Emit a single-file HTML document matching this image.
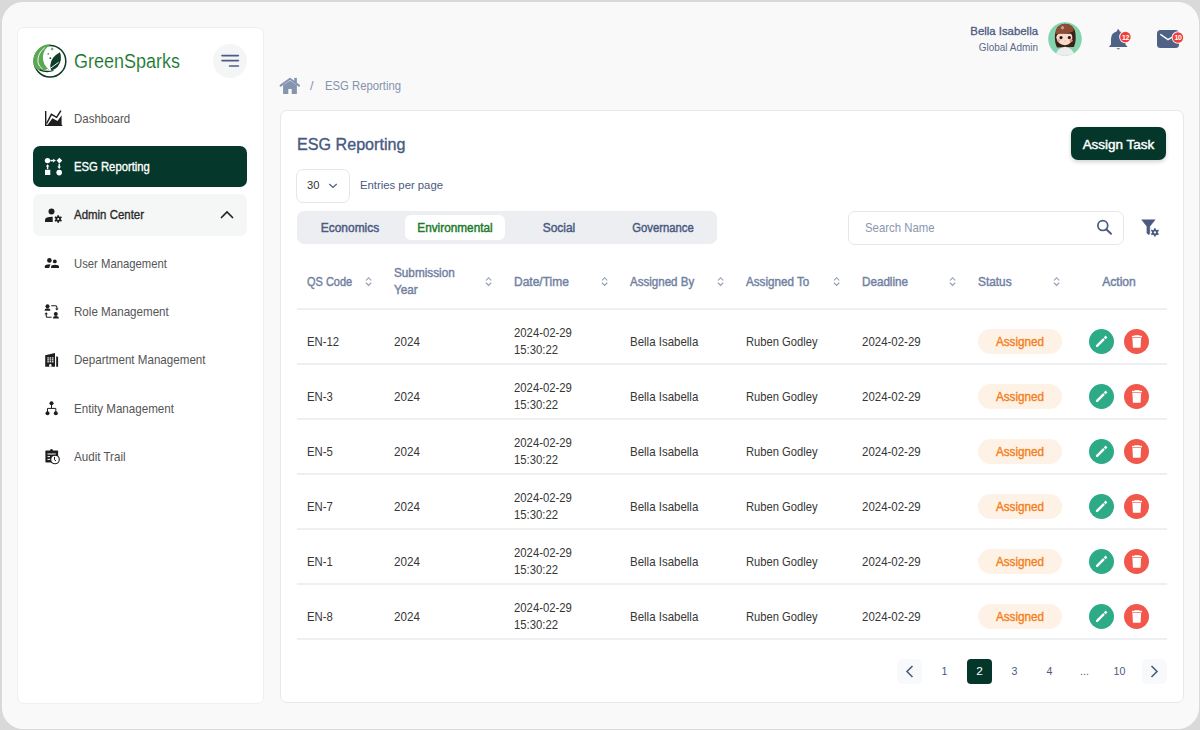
<!DOCTYPE html>
<html><head><meta charset="utf-8">
<style>
*{box-sizing:border-box;margin:0;padding:0}
html,body{width:1200px;height:730px;overflow:hidden;background:#d9d9d9;font-family:"Liberation Sans",sans-serif}
.abs{position:absolute}
.t{position:absolute;white-space:nowrap;line-height:1}
.rl{position:absolute;left:296.5px;width:870px;height:1.8px;background:#edeff3}
</style></head><body>
<div class="abs" style="left:1.5px;top:1.5px;width:1197px;height:727px;border-radius:21px;background:#f9f9f9;border:1px solid #fbfbfb"></div>
<div class="abs" style="left:16.5px;top:27px;width:247px;height:676.5px;background:#fff;border-radius:7px;border:1px solid #efefef"></div>
<svg class="abs" style="left:30px;top:41px" width="40" height="40" viewBox="0 0 40 40">
  <circle cx="20" cy="20.2" r="15.8" fill="none" stroke="#0f3a25" stroke-width="1.5"/>
  <path d="M21 3.4 A16.6 16.6 0 0 0 5.2 27.5 Q10 31 19.2 28.8 Q12.5 23.5 12.9 15.5 Q13.6 7.5 21 3.4Z" fill="#5aa851"/>
  <path d="M14.8 6.6 Q7 12.5 8 21.5 Q8.8 25.5 12.5 28" fill="none" stroke="#fff" stroke-width="0.9"/>
  <path d="M30 11.2 Q21 16 20.3 24 Q20 27.5 21.3 29.6 Q29.5 27 30.9 18.5 Q31.3 14 30 11.2Z" fill="#0d3f29"/>
  <path d="M12.5 30.5 Q21.5 28 28.6 21.3" fill="none" stroke="#fff" stroke-width="1"/>
  <path d="M9.5 28.8 Q16 31.8 23.5 29.5" fill="none" stroke="#0f3a25" stroke-width="1.3"/>
  <path d="M22.1 6.2L22.6 7.5L23.9 8L22.6 8.5L22.1 9.8L21.6 8.5L20.3 8L21.6 7.5Z" fill="#1f8a3a"/>
  <circle cx="18.3" cy="12.9" r="0.9" fill="#5aa851"/>
  <circle cx="20.3" cy="17.1" r="0.9" fill="#0f3a25"/>
</svg>
<div class="t" style="left:74.00px;top:51.47px;font-size:20px;color:#15752a;transform:scaleX(0.8987);transform-origin:0 0;-webkit-text-stroke:0.15px #fff;">GreenSparks</div>
<div class="abs" style="left:213px;top:44px;width:34px;height:34px;border-radius:50%;background:#f4f5f7"></div>
<svg class="abs" style="left:213px;top:44px" width="34" height="34"><path d="M9 11.6H25.4M9 16.6H25.4M16.6 22H25.4" stroke="#4d5d82" stroke-width="1.6" stroke-linecap="round"/></svg>
<div class="t" style="left:73.70px;top:112.66px;font-size:12.8px;color:#555;transform:scaleX(0.8961);transform-origin:0 0;">Dashboard</div>
<div class="abs" style="left:33px;top:146px;width:214px;height:41px;border-radius:7px;background:#05382a"></div>
<div class="t" style="left:73.70px;top:160.66px;font-size:12.8px;color:#fff;-webkit-text-stroke:0.35px #fff;transform:scaleX(0.8816);transform-origin:0 0;">ESG Reporting</div>
<div class="abs" style="left:33px;top:194px;width:214px;height:42px;border-radius:7px;background:#f5f6f6"></div>
<div class="t" style="left:73.70px;top:209.16px;font-size:12.8px;color:#2a2a2a;-webkit-text-stroke:0.35px #2a2a2a;transform:scaleX(0.8950);transform-origin:0 0;">Admin Center</div>
<svg class="abs" style="left:218px;top:208px" width="18" height="14"><path d="M3 10L9 4L15 10" fill="none" stroke="#222" stroke-width="1.6"/></svg>
<div class="t" style="left:73.70px;top:257.66px;font-size:12.8px;color:#555;transform:scaleX(0.8826);transform-origin:0 0;">User Management</div>
<div class="t" style="left:73.70px;top:305.96px;font-size:12.8px;color:#555;transform:scaleX(0.9062);transform-origin:0 0;">Role Management</div>
<div class="t" style="left:73.70px;top:354.26px;font-size:12.8px;color:#555;transform:scaleX(0.9062);transform-origin:0 0;">Department Management</div>
<div class="t" style="left:73.70px;top:402.56px;font-size:12.8px;color:#555;transform:scaleX(0.9062);transform-origin:0 0;">Entity Management</div>
<div class="t" style="left:73.70px;top:450.86px;font-size:12.8px;color:#555;transform:scaleX(0.9062);transform-origin:0 0;">Audit Trail</div>
<div class="t" style="left:900.00px;top:26.07px;font-size:11.5px;color:#4a5a80;-webkit-text-stroke:0.3px #4a5a80;width:138px;text-align:right;transform:scaleX(0.9898);transform-origin:100% 0;">Bella Isabella</div>
<div class="t" style="left:900.00px;top:43.03px;font-size:10px;color:#5a6a8a;width:138px;text-align:right;transform:scaleX(0.9955);transform-origin:100% 0;">Global Admin</div>
<div class="t" style="left:310.00px;top:79.96px;font-size:12.8px;color:#8593ad;">/</div>
<div class="t" style="left:325.30px;top:79.96px;font-size:12.8px;color:#8593ad;transform:scaleX(0.8829);transform-origin:0 0;">ESG Reporting</div>
<div class="abs" style="left:280px;top:110px;width:904px;height:593px;background:#fff;border:1px solid #e6e8ec;border-radius:7px"></div>
<div class="t" style="left:297.30px;top:136.66px;font-size:16px;color:#475a80;-webkit-text-stroke:0.35px #475a80;transform:scaleX(1.0079);transform-origin:0 0;">ESG Reporting</div>
<div class="abs" style="left:1071px;top:127px;width:95px;height:33px;border-radius:7px;background:#04362a;box-shadow:0 2px 4px rgba(0,0,0,0.18)"></div>
<div class="t" style="left:1071.00px;top:137.99px;font-size:13.6px;color:#fff;-webkit-text-stroke:0.45px #fff;width:95px;text-align:center;transform:scaleX(0.9921);transform-origin:50% 0;">Assign Task</div>
<div class="abs" style="left:296px;top:169px;width:54px;height:34px;border-radius:7px;border:1px solid #e4e6ea"></div>
<div class="t" style="left:306.70px;top:180.21px;font-size:11.8px;color:#333;transform:scaleX(0.9439);transform-origin:0 0;">30</div>
<svg class="abs" style="left:326px;top:180px" width="14" height="10"><path d="M3.3 4L7 7.4L10.7 4" fill="none" stroke="#4a5a80" stroke-width="1.15"/></svg>
<div class="t" style="left:360.30px;top:180.21px;font-size:11.8px;color:#4a5a80;transform:scaleX(0.9586);transform-origin:0 0;">Entries per page</div>
<div class="abs" style="left:297px;top:211px;width:420px;height:33px;border-radius:7px;background:#eceef2"></div>
<div class="abs" style="left:405px;top:215px;width:100px;height:25px;border-radius:6px;background:#fff"></div>
<div class="t" style="left:290.40px;top:222.16px;font-size:12.8px;color:#4a5a80;-webkit-text-stroke:0.45px #4a5a80;width:120px;text-align:center;transform:scaleX(0.9329);transform-origin:50% 0;">Economics</div>
<div class="t" style="left:394.50px;top:222.16px;font-size:12.8px;color:#1b7a2b;-webkit-text-stroke:0.45px #1b7a2b;width:120px;text-align:center;transform:scaleX(0.9216);transform-origin:50% 0;">Environmental</div>
<div class="t" style="left:498.70px;top:222.16px;font-size:12.8px;color:#4a5a80;-webkit-text-stroke:0.45px #4a5a80;width:120px;text-align:center;transform:scaleX(0.9344);transform-origin:50% 0;">Social</div>
<div class="t" style="left:603.20px;top:222.16px;font-size:12.8px;color:#4a5a80;-webkit-text-stroke:0.45px #4a5a80;width:120px;text-align:center;transform:scaleX(0.8808);transform-origin:50% 0;">Governance</div>
<div class="abs" style="left:848px;top:211px;width:276px;height:33.5px;border-radius:7px;border:1px solid #e4e6ea;background:#fff"></div>
<div class="t" style="left:865.00px;top:221.56px;font-size:12.8px;color:#8a97b0;transform:scaleX(0.8884);transform-origin:0 0;">Search Name</div>
<svg class="abs" style="left:1094px;top:216.8px" width="20" height="20"><circle cx="8.8" cy="8.6" r="4.9" fill="none" stroke="#4a5a80" stroke-width="1.7"/><path d="M12.3 12.2L17 16.8" stroke="#4a5a80" stroke-width="1.9" stroke-linecap="round"/></svg>
<svg class="abs" style="left:1138px;top:216px" width="24" height="24" viewBox="0 0 24 24">
<path d="M3.7 3.8H17.1L11.8 10.4V16.5Q11.8 18 11 18.8L8.9 17.2V10.4Z" fill="#4a5a80" stroke="#4a5a80" stroke-width="0.5" stroke-linejoin="round"/>
<g transform="translate(16.9,16.4)"><circle r="2.9" fill="#4a5a80"/>
<path d="M0 -4.2V4.2M-3.64 -2.1L3.64 2.1M-3.64 2.1L3.64 -2.1" stroke="#4a5a80" stroke-width="1.7"/><circle r="1.1" fill="#fff"/></g>
</svg>
<div class="t" style="left:306.50px;top:275.56px;font-size:12.8px;color:#7282a2;-webkit-text-stroke:0.45px #7282a2;transform:scaleX(0.8571);transform-origin:0 0;">QS Code</div>
<svg class="abs" style="left:365px;top:276px" width="8" height="11"><path d="M0.9 4.5L3.6 1.7L6.3 4.5M0.9 6.6L3.6 9.4L6.3 6.6" fill="none" stroke="#8a97b0" stroke-width="1.05"/></svg>
<div class="t" style="left:393.50px;top:267.06px;font-size:12.8px;color:#7282a2;-webkit-text-stroke:0.45px #7282a2;transform:scaleX(0.9176);transform-origin:0 0;">Submission</div>
<div class="t" style="left:393.50px;top:283.56px;font-size:12.8px;color:#7282a2;-webkit-text-stroke:0.45px #7282a2;transform:scaleX(0.9176);transform-origin:0 0;">Year</div>
<svg class="abs" style="left:485px;top:276px" width="8" height="11"><path d="M0.9 4.5L3.6 1.7L6.3 4.5M0.9 6.6L3.6 9.4L6.3 6.6" fill="none" stroke="#8a97b0" stroke-width="1.05"/></svg>
<div class="t" style="left:513.50px;top:275.56px;font-size:12.8px;color:#7282a2;-webkit-text-stroke:0.45px #7282a2;transform:scaleX(0.9364);transform-origin:0 0;">Date/Time</div>
<svg class="abs" style="left:601px;top:276px" width="8" height="11"><path d="M0.9 4.5L3.6 1.7L6.3 4.5M0.9 6.6L3.6 9.4L6.3 6.6" fill="none" stroke="#8a97b0" stroke-width="1.05"/></svg>
<div class="t" style="left:629.50px;top:275.56px;font-size:12.8px;color:#7282a2;-webkit-text-stroke:0.45px #7282a2;transform:scaleX(0.9032);transform-origin:0 0;">Assigned By</div>
<svg class="abs" style="left:717px;top:276px" width="8" height="11"><path d="M0.9 4.5L3.6 1.7L6.3 4.5M0.9 6.6L3.6 9.4L6.3 6.6" fill="none" stroke="#8a97b0" stroke-width="1.05"/></svg>
<div class="t" style="left:745.50px;top:275.56px;font-size:12.8px;color:#7282a2;-webkit-text-stroke:0.45px #7282a2;transform:scaleX(0.9108);transform-origin:0 0;">Assigned To</div>
<svg class="abs" style="left:833px;top:276px" width="8" height="11"><path d="M0.9 4.5L3.6 1.7L6.3 4.5M0.9 6.6L3.6 9.4L6.3 6.6" fill="none" stroke="#8a97b0" stroke-width="1.05"/></svg>
<div class="t" style="left:861.50px;top:275.56px;font-size:12.8px;color:#7282a2;-webkit-text-stroke:0.45px #7282a2;transform:scaleX(0.9108);transform-origin:0 0;">Deadline</div>
<svg class="abs" style="left:949px;top:276px" width="8" height="11"><path d="M0.9 4.5L3.6 1.7L6.3 4.5M0.9 6.6L3.6 9.4L6.3 6.6" fill="none" stroke="#8a97b0" stroke-width="1.05"/></svg>
<div class="t" style="left:977.50px;top:275.56px;font-size:12.8px;color:#7282a2;-webkit-text-stroke:0.45px #7282a2;transform:scaleX(0.9248);transform-origin:0 0;">Status</div>
<svg class="abs" style="left:1053px;top:276px" width="8" height="11"><path d="M0.9 4.5L3.6 1.7L6.3 4.5M0.9 6.6L3.6 9.4L6.3 6.6" fill="none" stroke="#8a97b0" stroke-width="1.05"/></svg>
<div class="t" style="left:1072.00px;top:275.56px;font-size:12.8px;color:#7282a2;-webkit-text-stroke:0.45px #7282a2;width:94px;text-align:center;transform:scaleX(0.9471);transform-origin:50% 0;">Action</div>
<div class="rl" style="top:308px"></div>
<div class="t" style="left:306.50px;top:335.66px;font-size:12.8px;color:#363636;transform:scaleX(0.8846);transform-origin:0 0;">EN-12</div>
<div class="t" style="left:393.50px;top:335.66px;font-size:12.8px;color:#363636;transform:scaleX(0.9100);transform-origin:0 0;">2024</div>
<div class="t" style="left:513.60px;top:326.86px;font-size:12.8px;color:#363636;transform:scaleX(0.8846);transform-origin:0 0;">2024-02-29</div>
<div class="t" style="left:513.60px;top:344.16px;font-size:12.8px;color:#363636;transform:scaleX(0.8846);transform-origin:0 0;">15:30:22</div>
<div class="t" style="left:629.60px;top:335.66px;font-size:12.8px;color:#363636;transform:scaleX(0.8973);transform-origin:0 0;">Bella Isabella</div>
<div class="t" style="left:746.00px;top:335.66px;font-size:12.8px;color:#363636;transform:scaleX(0.8746);transform-origin:0 0;">Ruben Godley</div>
<div class="t" style="left:862.00px;top:335.66px;font-size:12.8px;color:#363636;transform:scaleX(0.8968);transform-origin:0 0;">2024-02-29</div>
<div class="abs" style="left:978px;top:329px;width:84px;height:25px;border-radius:13px;background:#fef2e6"></div>
<div class="t" style="left:978.00px;top:335.66px;font-size:12.8px;color:#f57d18;-webkit-text-stroke:0.35px #f57d18;width:84px;text-align:center;transform:scaleX(0.9153);transform-origin:50% 0;">Assigned</div>
<div class="abs" style="left:1089px;top:329px;width:25px;height:25px;border-radius:50%;background:#2cab86"></div>
<svg class="abs" style="left:1089px;top:329px" width="25" height="25"><path d="M8.1 16.9L14.3 10.7" stroke="#fff" stroke-width="2.5" stroke-linecap="round"/><path d="M15.7 9.3L17.5 7.5" stroke="#fff" stroke-width="2.5"/></svg>
<div class="abs" style="left:1124px;top:329px;width:25px;height:25px;border-radius:50%;background:#f2574b"></div>
<svg class="abs" style="left:1124px;top:329px" width="25" height="25"><path d="M8 7.6H18" stroke="#fff" stroke-width="1.5"/><path d="M10.8 6.9H15.2" stroke="#fff" stroke-width="1.2" stroke-linecap="round"/><path d="M8.4 9H17.1L16.6 18.2Q16.5 18.8 15.9 18.8H9.6Q9 18.8 8.9 18.2Z" fill="#fff"/></svg>
<div class="rl" style="top:363px"></div>
<div class="t" style="left:306.50px;top:390.66px;font-size:12.8px;color:#363636;transform:scaleX(0.8846);transform-origin:0 0;">EN-3</div>
<div class="t" style="left:393.50px;top:390.66px;font-size:12.8px;color:#363636;transform:scaleX(0.9100);transform-origin:0 0;">2024</div>
<div class="t" style="left:513.60px;top:381.86px;font-size:12.8px;color:#363636;transform:scaleX(0.8846);transform-origin:0 0;">2024-02-29</div>
<div class="t" style="left:513.60px;top:399.16px;font-size:12.8px;color:#363636;transform:scaleX(0.8846);transform-origin:0 0;">15:30:22</div>
<div class="t" style="left:629.60px;top:390.66px;font-size:12.8px;color:#363636;transform:scaleX(0.8973);transform-origin:0 0;">Bella Isabella</div>
<div class="t" style="left:746.00px;top:390.66px;font-size:12.8px;color:#363636;transform:scaleX(0.8746);transform-origin:0 0;">Ruben Godley</div>
<div class="t" style="left:862.00px;top:390.66px;font-size:12.8px;color:#363636;transform:scaleX(0.8968);transform-origin:0 0;">2024-02-29</div>
<div class="abs" style="left:978px;top:384px;width:84px;height:25px;border-radius:13px;background:#fef2e6"></div>
<div class="t" style="left:978.00px;top:390.66px;font-size:12.8px;color:#f57d18;-webkit-text-stroke:0.35px #f57d18;width:84px;text-align:center;transform:scaleX(0.9153);transform-origin:50% 0;">Assigned</div>
<div class="abs" style="left:1089px;top:384px;width:25px;height:25px;border-radius:50%;background:#2cab86"></div>
<svg class="abs" style="left:1089px;top:384px" width="25" height="25"><path d="M8.1 16.9L14.3 10.7" stroke="#fff" stroke-width="2.5" stroke-linecap="round"/><path d="M15.7 9.3L17.5 7.5" stroke="#fff" stroke-width="2.5"/></svg>
<div class="abs" style="left:1124px;top:384px;width:25px;height:25px;border-radius:50%;background:#f2574b"></div>
<svg class="abs" style="left:1124px;top:384px" width="25" height="25"><path d="M8 7.6H18" stroke="#fff" stroke-width="1.5"/><path d="M10.8 6.9H15.2" stroke="#fff" stroke-width="1.2" stroke-linecap="round"/><path d="M8.4 9H17.1L16.6 18.2Q16.5 18.8 15.9 18.8H9.6Q9 18.8 8.9 18.2Z" fill="#fff"/></svg>
<div class="rl" style="top:418px"></div>
<div class="t" style="left:306.50px;top:445.66px;font-size:12.8px;color:#363636;transform:scaleX(0.8846);transform-origin:0 0;">EN-5</div>
<div class="t" style="left:393.50px;top:445.66px;font-size:12.8px;color:#363636;transform:scaleX(0.9100);transform-origin:0 0;">2024</div>
<div class="t" style="left:513.60px;top:436.86px;font-size:12.8px;color:#363636;transform:scaleX(0.8846);transform-origin:0 0;">2024-02-29</div>
<div class="t" style="left:513.60px;top:454.16px;font-size:12.8px;color:#363636;transform:scaleX(0.8846);transform-origin:0 0;">15:30:22</div>
<div class="t" style="left:629.60px;top:445.66px;font-size:12.8px;color:#363636;transform:scaleX(0.8973);transform-origin:0 0;">Bella Isabella</div>
<div class="t" style="left:746.00px;top:445.66px;font-size:12.8px;color:#363636;transform:scaleX(0.8746);transform-origin:0 0;">Ruben Godley</div>
<div class="t" style="left:862.00px;top:445.66px;font-size:12.8px;color:#363636;transform:scaleX(0.8968);transform-origin:0 0;">2024-02-29</div>
<div class="abs" style="left:978px;top:439px;width:84px;height:25px;border-radius:13px;background:#fef2e6"></div>
<div class="t" style="left:978.00px;top:445.66px;font-size:12.8px;color:#f57d18;-webkit-text-stroke:0.35px #f57d18;width:84px;text-align:center;transform:scaleX(0.9153);transform-origin:50% 0;">Assigned</div>
<div class="abs" style="left:1089px;top:439px;width:25px;height:25px;border-radius:50%;background:#2cab86"></div>
<svg class="abs" style="left:1089px;top:439px" width="25" height="25"><path d="M8.1 16.9L14.3 10.7" stroke="#fff" stroke-width="2.5" stroke-linecap="round"/><path d="M15.7 9.3L17.5 7.5" stroke="#fff" stroke-width="2.5"/></svg>
<div class="abs" style="left:1124px;top:439px;width:25px;height:25px;border-radius:50%;background:#f2574b"></div>
<svg class="abs" style="left:1124px;top:439px" width="25" height="25"><path d="M8 7.6H18" stroke="#fff" stroke-width="1.5"/><path d="M10.8 6.9H15.2" stroke="#fff" stroke-width="1.2" stroke-linecap="round"/><path d="M8.4 9H17.1L16.6 18.2Q16.5 18.8 15.9 18.8H9.6Q9 18.8 8.9 18.2Z" fill="#fff"/></svg>
<div class="rl" style="top:473px"></div>
<div class="t" style="left:306.50px;top:500.66px;font-size:12.8px;color:#363636;transform:scaleX(0.8846);transform-origin:0 0;">EN-7</div>
<div class="t" style="left:393.50px;top:500.66px;font-size:12.8px;color:#363636;transform:scaleX(0.9100);transform-origin:0 0;">2024</div>
<div class="t" style="left:513.60px;top:491.86px;font-size:12.8px;color:#363636;transform:scaleX(0.8846);transform-origin:0 0;">2024-02-29</div>
<div class="t" style="left:513.60px;top:509.16px;font-size:12.8px;color:#363636;transform:scaleX(0.8846);transform-origin:0 0;">15:30:22</div>
<div class="t" style="left:629.60px;top:500.66px;font-size:12.8px;color:#363636;transform:scaleX(0.8973);transform-origin:0 0;">Bella Isabella</div>
<div class="t" style="left:746.00px;top:500.66px;font-size:12.8px;color:#363636;transform:scaleX(0.8746);transform-origin:0 0;">Ruben Godley</div>
<div class="t" style="left:862.00px;top:500.66px;font-size:12.8px;color:#363636;transform:scaleX(0.8968);transform-origin:0 0;">2024-02-29</div>
<div class="abs" style="left:978px;top:494px;width:84px;height:25px;border-radius:13px;background:#fef2e6"></div>
<div class="t" style="left:978.00px;top:500.66px;font-size:12.8px;color:#f57d18;-webkit-text-stroke:0.35px #f57d18;width:84px;text-align:center;transform:scaleX(0.9153);transform-origin:50% 0;">Assigned</div>
<div class="abs" style="left:1089px;top:494px;width:25px;height:25px;border-radius:50%;background:#2cab86"></div>
<svg class="abs" style="left:1089px;top:494px" width="25" height="25"><path d="M8.1 16.9L14.3 10.7" stroke="#fff" stroke-width="2.5" stroke-linecap="round"/><path d="M15.7 9.3L17.5 7.5" stroke="#fff" stroke-width="2.5"/></svg>
<div class="abs" style="left:1124px;top:494px;width:25px;height:25px;border-radius:50%;background:#f2574b"></div>
<svg class="abs" style="left:1124px;top:494px" width="25" height="25"><path d="M8 7.6H18" stroke="#fff" stroke-width="1.5"/><path d="M10.8 6.9H15.2" stroke="#fff" stroke-width="1.2" stroke-linecap="round"/><path d="M8.4 9H17.1L16.6 18.2Q16.5 18.8 15.9 18.8H9.6Q9 18.8 8.9 18.2Z" fill="#fff"/></svg>
<div class="rl" style="top:528px"></div>
<div class="t" style="left:306.50px;top:555.66px;font-size:12.8px;color:#363636;transform:scaleX(0.8846);transform-origin:0 0;">EN-1</div>
<div class="t" style="left:393.50px;top:555.66px;font-size:12.8px;color:#363636;transform:scaleX(0.9100);transform-origin:0 0;">2024</div>
<div class="t" style="left:513.60px;top:546.86px;font-size:12.8px;color:#363636;transform:scaleX(0.8846);transform-origin:0 0;">2024-02-29</div>
<div class="t" style="left:513.60px;top:564.16px;font-size:12.8px;color:#363636;transform:scaleX(0.8846);transform-origin:0 0;">15:30:22</div>
<div class="t" style="left:629.60px;top:555.66px;font-size:12.8px;color:#363636;transform:scaleX(0.8973);transform-origin:0 0;">Bella Isabella</div>
<div class="t" style="left:746.00px;top:555.66px;font-size:12.8px;color:#363636;transform:scaleX(0.8746);transform-origin:0 0;">Ruben Godley</div>
<div class="t" style="left:862.00px;top:555.66px;font-size:12.8px;color:#363636;transform:scaleX(0.8968);transform-origin:0 0;">2024-02-29</div>
<div class="abs" style="left:978px;top:549px;width:84px;height:25px;border-radius:13px;background:#fef2e6"></div>
<div class="t" style="left:978.00px;top:555.66px;font-size:12.8px;color:#f57d18;-webkit-text-stroke:0.35px #f57d18;width:84px;text-align:center;transform:scaleX(0.9153);transform-origin:50% 0;">Assigned</div>
<div class="abs" style="left:1089px;top:549px;width:25px;height:25px;border-radius:50%;background:#2cab86"></div>
<svg class="abs" style="left:1089px;top:549px" width="25" height="25"><path d="M8.1 16.9L14.3 10.7" stroke="#fff" stroke-width="2.5" stroke-linecap="round"/><path d="M15.7 9.3L17.5 7.5" stroke="#fff" stroke-width="2.5"/></svg>
<div class="abs" style="left:1124px;top:549px;width:25px;height:25px;border-radius:50%;background:#f2574b"></div>
<svg class="abs" style="left:1124px;top:549px" width="25" height="25"><path d="M8 7.6H18" stroke="#fff" stroke-width="1.5"/><path d="M10.8 6.9H15.2" stroke="#fff" stroke-width="1.2" stroke-linecap="round"/><path d="M8.4 9H17.1L16.6 18.2Q16.5 18.8 15.9 18.8H9.6Q9 18.8 8.9 18.2Z" fill="#fff"/></svg>
<div class="rl" style="top:583px"></div>
<div class="t" style="left:306.50px;top:610.66px;font-size:12.8px;color:#363636;transform:scaleX(0.8846);transform-origin:0 0;">EN-8</div>
<div class="t" style="left:393.50px;top:610.66px;font-size:12.8px;color:#363636;transform:scaleX(0.9100);transform-origin:0 0;">2024</div>
<div class="t" style="left:513.60px;top:601.86px;font-size:12.8px;color:#363636;transform:scaleX(0.8846);transform-origin:0 0;">2024-02-29</div>
<div class="t" style="left:513.60px;top:619.16px;font-size:12.8px;color:#363636;transform:scaleX(0.8846);transform-origin:0 0;">15:30:22</div>
<div class="t" style="left:629.60px;top:610.66px;font-size:12.8px;color:#363636;transform:scaleX(0.8973);transform-origin:0 0;">Bella Isabella</div>
<div class="t" style="left:746.00px;top:610.66px;font-size:12.8px;color:#363636;transform:scaleX(0.8746);transform-origin:0 0;">Ruben Godley</div>
<div class="t" style="left:862.00px;top:610.66px;font-size:12.8px;color:#363636;transform:scaleX(0.8968);transform-origin:0 0;">2024-02-29</div>
<div class="abs" style="left:978px;top:604px;width:84px;height:25px;border-radius:13px;background:#fef2e6"></div>
<div class="t" style="left:978.00px;top:610.66px;font-size:12.8px;color:#f57d18;-webkit-text-stroke:0.35px #f57d18;width:84px;text-align:center;transform:scaleX(0.9153);transform-origin:50% 0;">Assigned</div>
<div class="abs" style="left:1089px;top:604px;width:25px;height:25px;border-radius:50%;background:#2cab86"></div>
<svg class="abs" style="left:1089px;top:604px" width="25" height="25"><path d="M8.1 16.9L14.3 10.7" stroke="#fff" stroke-width="2.5" stroke-linecap="round"/><path d="M15.7 9.3L17.5 7.5" stroke="#fff" stroke-width="2.5"/></svg>
<div class="abs" style="left:1124px;top:604px;width:25px;height:25px;border-radius:50%;background:#f2574b"></div>
<svg class="abs" style="left:1124px;top:604px" width="25" height="25"><path d="M8 7.6H18" stroke="#fff" stroke-width="1.5"/><path d="M10.8 6.9H15.2" stroke="#fff" stroke-width="1.2" stroke-linecap="round"/><path d="M8.4 9H17.1L16.6 18.2Q16.5 18.8 15.9 18.8H9.6Q9 18.8 8.9 18.2Z" fill="#fff"/></svg>
<div class="rl" style="top:638px"></div>
<div class="abs" style="left:897px;top:659px;width:25px;height:25px;border-radius:5px;background:#f8f9fb"></div>
<svg class="abs" style="left:897px;top:659px" width="25" height="25"><path d="M15.5 7L10 12.5L15.5 18" fill="none" stroke="#4a5a80" stroke-width="1.6"/></svg>
<div class="t" style="left:932.00px;top:666.01px;font-size:11.8px;color:#4a5a80;width:25px;text-align:center;transform:scaleX(0.9000);transform-origin:50% 0;">1</div>
<div class="abs" style="left:967px;top:659px;width:25px;height:25px;border-radius:4px;background:#04362a"></div>
<div class="t" style="left:967.00px;top:666.01px;font-size:11.8px;color:#fff;width:25px;text-align:center;">2</div>
<div class="t" style="left:1002.00px;top:666.01px;font-size:11.8px;color:#4a5a80;width:25px;text-align:center;transform:scaleX(0.9000);transform-origin:50% 0;">3</div>
<div class="t" style="left:1037.00px;top:666.01px;font-size:11.8px;color:#4a5a80;width:25px;text-align:center;transform:scaleX(0.9000);transform-origin:50% 0;">4</div>
<div class="t" style="left:1072.00px;top:666.01px;font-size:11.8px;color:#4a5a80;width:25px;text-align:center;transform:scaleX(0.9000);transform-origin:50% 0;">...</div>
<div class="t" style="left:1107.00px;top:666.01px;font-size:11.8px;color:#4a5a80;width:25px;text-align:center;transform:scaleX(0.9000);transform-origin:50% 0;">10</div>
<div class="abs" style="left:1142px;top:659px;width:25px;height:25px;border-radius:5px;background:#f8f9fb"></div>
<svg class="abs" style="left:1142px;top:659px" width="25" height="25"><path d="M9.5 7L15 12.5L9.5 18" fill="none" stroke="#4a5a80" stroke-width="1.6"/></svg>
<svg class="abs" style="left:40px;top:104px" width="28" height="28" viewBox="0 0 28 28"><path d="M5.7 7V21.4H22.3" fill="none" stroke="#1e1e1e" stroke-width="1.4"/><path d="M6.6 19.5L11.4 10.3L16.6 13.3L20.9 6.6" fill="none" stroke="#1e1e1e" stroke-width="1.5" stroke-linejoin="miter"/><path d="M7.5 21L12.4 14.2L17.5 17L21.6 11.2V21.4H7.5Z" fill="#1e1e1e"/></svg>
<svg class="abs" style="left:40px;top:152px" width="28" height="28" viewBox="0 0 28 28"><circle cx="7.5" cy="8.6" r="2.7" fill="#fff"/><path d="M19.4 5.8L22.2 8.6L19.4 11.4L16.6 8.6Z" fill="#fff"/><path d="M10.4 8.6H13.6" stroke="#fff" stroke-width="1.5"/><path d="M13.2 6.7L15.8 8.6L13.2 10.5Z" fill="#fff"/><rect x="5" y="17.8" width="5.3" height="5.2" fill="#fff"/><circle cx="19.2" cy="20.6" r="2.8" fill="#fff"/><path d="M7.6 17.2V14" stroke="#fff" stroke-width="1.4"/><path d="M5.8 14.6L7.6 12.2L9.4 14.6Z" fill="#fff"/><path d="M19.2 11.8V15.2" stroke="#fff" stroke-width="1.4"/><path d="M17.4 14.6L19.2 17L21 14.6Z" fill="#fff"/></svg>
<svg class="abs" style="left:40px;top:201px" width="28" height="28" viewBox="0 0 28 28"><circle cx="11.5" cy="10.4" r="3" fill="#1e1e1e"/><path d="M5 21V18.9Q5 15.8 12.7 15.8V21Z" fill="#1e1e1e"/><g transform="translate(18.2,18)"><circle r="2.7" fill="#1e1e1e"/><path d="M0 -3.8V3.8M-3.3 -1.9L3.3 1.9M-3.3 1.9L3.3 -1.9" stroke="#1e1e1e" stroke-width="1.7"/><circle r="1" fill="#f4f5f5"/></g></svg>
<svg class="abs" style="left:40px;top:250px" width="28" height="28" viewBox="0 0 28 28"><circle cx="9.4" cy="10.4" r="2.3" fill="#1e1e1e"/><circle cx="14.8" cy="11.4" r="1.9" fill="#1e1e1e"/><path d="M4.8 17.9V16.5Q4.8 14.3 10.4 14.2L9.2 17.9Z" fill="#1e1e1e"/><path d="M11.1 17.9V16.6Q11.1 14.8 15 14.8Q19 14.8 19 16.6V17.9Z" fill="#1e1e1e"/></svg>
<svg class="abs" style="left:40px;top:298px" width="28" height="28" viewBox="0 0 28 28"><circle cx="7.5" cy="8.2" r="2" fill="#1e1e1e"/><path d="M4.7 12.8V11.9Q4.7 10.3 7.5 10.3Q10.3 10.3 10.3 11.9V12.8Z" fill="#1e1e1e"/><circle cx="15.8" cy="15.9" r="2" fill="#1e1e1e"/><path d="M13 20.4V19.5Q13 17.9 15.8 17.9Q18.7 17.9 18.7 19.5V20.4Z" fill="#1e1e1e"/><path d="M11.2 7.7H15.4Q16.9 7.7 16.9 9.2V10.8" fill="none" stroke="#1e1e1e" stroke-width="1.1"/><path d="M15.1 10.5H18.7L16.9 12.5Z" fill="#1e1e1e"/><path d="M6.2 16V18Q6.2 19.3 7.5 19.3H11.6" fill="none" stroke="#1e1e1e" stroke-width="1.1"/><path d="M4.4 16.3H8L6.2 14.3Z" fill="#1e1e1e"/></svg>
<svg class="abs" style="left:40px;top:346px" width="28" height="28" viewBox="0 0 28 28"><path d="M5.2 9.2L15 7.1V20.8H5.2Z" fill="#1e1e1e"/><path d="M16.2 10.2L18.1 10.9V20.8H16.2Z" fill="#1e1e1e"/><rect x="7.3" y="11.2" width="1.6" height="1.5" fill="#d0d0d0"/><rect x="7.3" y="13.1" width="1.6" height="1.5" fill="#d0d0d0"/><rect x="7.3" y="15" width="1.6" height="1.5" fill="#d0d0d0"/><rect x="9.6" y="11.2" width="1.6" height="1.5" fill="#d0d0d0"/><rect x="9.6" y="13.1" width="1.6" height="1.5" fill="#d0d0d0"/><rect x="9.6" y="15" width="1.6" height="1.5" fill="#d0d0d0"/><rect x="11.9" y="11.2" width="1.6" height="1.5" fill="#d0d0d0"/><rect x="11.9" y="13.1" width="1.6" height="1.5" fill="#d0d0d0"/><rect x="11.9" y="15" width="1.6" height="1.5" fill="#d0d0d0"/><path d="M9.2 20.8V19.2Q9.2 18 10.35 18Q11.5 18 11.5 19.2V20.8Z" fill="#fff"/></svg>
<svg class="abs" style="left:40px;top:394px" width="28" height="28" viewBox="0 0 28 28"><circle cx="11.5" cy="9.2" r="2" fill="#1e1e1e"/><circle cx="7.5" cy="19.2" r="2" fill="#1e1e1e"/><circle cx="15.8" cy="19.2" r="2" fill="#1e1e1e"/><path d="M11.5 10V14.4M7.5 18V14.4H15.8V18" fill="none" stroke="#1e1e1e" stroke-width="1"/></svg>
<svg class="abs" style="left:40px;top:443px" width="28" height="28" viewBox="0 0 28 28"><rect x="5.4" y="7.4" width="12.7" height="12.2" rx="0.8" fill="#1e1e1e"/><circle cx="11.5" cy="7.3" r="1.3" fill="#1e1e1e"/><path d="M7.5 11H15.8M7.5 13.6H10M7.5 16.4H10" stroke="#fff" stroke-width="1"/><circle cx="15" cy="16.5" r="4.3" fill="#fff" stroke="#1e1e1e" stroke-width="1.1"/><path d="M14.5 13.9V16.8L16 18" fill="none" stroke="#1e1e1e" stroke-width="1"/></svg>
<svg class="abs" style="left:276px;top:72px" width="28" height="28" viewBox="0 0 28 28"><path d="M4.6 13.6L14 6.7L23 13.6" fill="none" stroke="#8595b0" stroke-width="2" stroke-linecap="round" stroke-linejoin="round"/><rect x="18.2" y="5.9" width="2.7" height="5" fill="#8595b0"/><path d="M7.1 13.3L14 8.6L20.9 13.3V21.9H15.7V17H12.3V21.9H7.1Z" fill="#8595b0"/></svg>
<svg class="abs" style="left:1045px;top:19px" width="40" height="40" viewBox="0 0 40 40"><circle cx="20" cy="20" r="16.8" fill="#83d4ae"/><clipPath id="av"><circle cx="20" cy="20" r="16.8"/></clipPath><g clip-path="url(#av)"><path d="M12 28.5Q9.3 23 10 15.5Q11 5.5 20 4.8Q29.5 5 30.5 15Q31.3 23 28.8 28Z" fill="#3a2219"/><path d="M10.3 15Q11 5.5 20 4.8Q27.5 5 29 11Q27 13.5 22 14.2Q15 15 10.3 15Z" fill="#8f4c32"/><path d="M11.3 18.5Q11.6 15 15 14.8Q21 14.5 25.5 14.8Q27.4 15.5 27.3 19Q26.8 25.3 20 26.3Q12.5 25.5 11.3 18.5Z" fill="#f8dccb"/><circle cx="16" cy="18.6" r="1.6" fill="#2a1a14"/><circle cx="24.3" cy="18.6" r="1.6" fill="#2a1a14"/><circle cx="13.6" cy="21.6" r="1.5" fill="#f2a09a"/><circle cx="26.2" cy="21.6" r="1.5" fill="#ee8476"/><circle cx="20.2" cy="22" r="0.6" fill="#f0a060"/><path d="M9.5 40Q10.5 29.5 20 27.8Q29.5 29.5 30.5 40Z" fill="#eceeed"/><circle cx="17.5" cy="8.8" r="1.7" fill="#a9a2a8"/></g></svg>
<svg class="abs" style="left:1103px;top:25px" width="30" height="30" viewBox="0 0 30 30"><path d="M5.9 22H24.6L22.5 19.4V14Q22.5 8 16.5 6.2Q16.5 4.2 15.2 4.2Q14 4.2 14 6.2Q8 8 8 14V19.4Z" fill="#4f6185"/><path d="M13.3 23.3H17.3Q15.3 25.6 13.3 23.3Z" fill="#4f6185"/><circle cx="22.4" cy="12" r="6.2" fill="#f8f9fa"/><circle cx="22.4" cy="12" r="5.3" fill="#ee3f3a"/><text x="22.4" y="14.6" font-family="Liberation Sans" font-weight="700" font-size="7" fill="#fff" text-anchor="middle" letter-spacing="-0.4">12</text></svg>
<svg class="abs" style="left:1153px;top:25px" width="36" height="30" viewBox="0 0 36 30"><rect x="4" y="5" width="22" height="18" rx="3.5" fill="#4f6185"/><path d="M7.8 9.6L15 14.6L20 11.7" fill="none" stroke="#fff" stroke-width="1.4" stroke-linecap="round"/><circle cx="24.9" cy="12.5" r="6.2" fill="#f8f9fa"/><circle cx="24.9" cy="12.5" r="5.3" fill="#ee3f3a"/><text x="24.9" y="15.1" font-family="Liberation Sans" font-weight="700" font-size="7" fill="#fff" text-anchor="middle" letter-spacing="-0.4">10</text></svg>
</body></html>
